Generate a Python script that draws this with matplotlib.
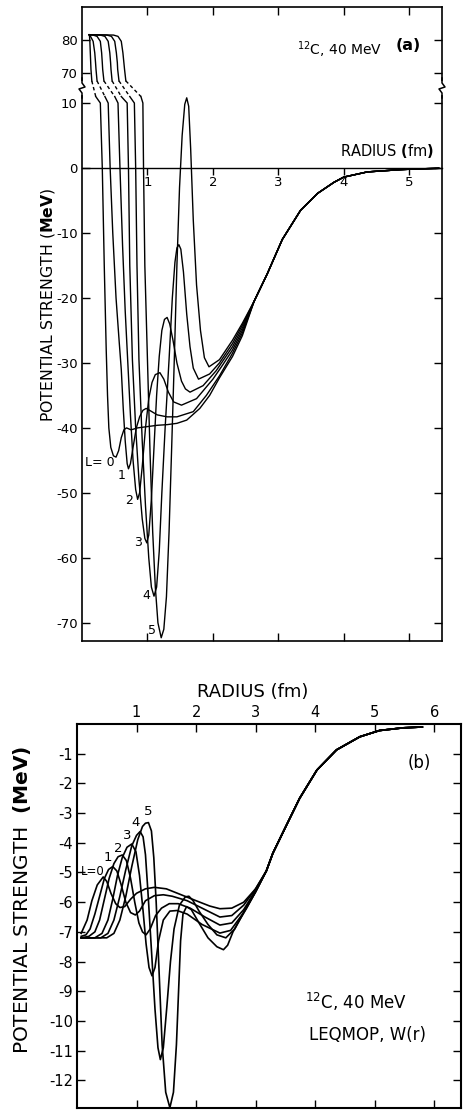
import matplotlib
matplotlib.use('Agg')
import matplotlib.pyplot as plt
import numpy as np

# ------------------------------------------------------------------
# (a) 12C, 40 MeV -- L dependent potentials, L = 0..5
# part of each curve above the axis break (V in MeV)
A_TOP_V = [81.5, 81.4, 81.0, 79.5, 76, 73, 71, 67.5]
A_TOP_R = [
    [0.11, 0.112, 0.115, 0.12, 0.127, 0.133, 0.137, 0.15],
    [0.11, 0.12, 0.13, 0.17, 0.195, 0.207, 0.214, 0.23],
    [0.11, 0.17, 0.23, 0.28, 0.30, 0.31, 0.316, 0.335],
    [0.11, 0.28, 0.35, 0.40, 0.425, 0.437, 0.443, 0.46],
    [0.11, 0.38, 0.45, 0.50, 0.525, 0.54, 0.545, 0.565],
    [0.11, 0.48, 0.55, 0.60, 0.625, 0.64, 0.65, 0.67],
]
# part below the break
A_LOW_R = [
    [0.21, 0.28, 0.31, 0.34, 0.37, 0.39, 0.41, 0.44, 0.48, 0.52, 0.56, 0.60, 0.64, 0.68,
     0.75, 0.85, 1.0, 1.15, 1.3, 1.45, 1.6, 1.8, 1.95, 2.1, 2.3, 2.45],
    [0.35, 0.40, 0.43, 0.47, 0.52, 0.57, 0.60, 0.63, 0.66, 0.69, 0.71, 0.74, 0.78, 0.83,
     0.88, 0.93, 0.98, 1.05, 1.15, 1.3, 1.45, 1.7, 1.9, 2.1, 2.3, 2.45],
    [0.50, 0.55, 0.58, 0.62, 0.66, 0.70, 0.74, 0.78, 0.82, 0.85, 0.88, 0.92, 0.97, 1.02,
     1.07, 1.12, 1.19, 1.25, 1.32, 1.40, 1.52, 1.75, 2.0, 2.15, 2.3, 2.45],
    [0.60, 0.69, 0.71, 0.73, 0.77, 0.82, 0.87, 0.92, 0.96, 0.99, 1.02, 1.06, 1.10, 1.14,
     1.18, 1.22, 1.26, 1.30, 1.34, 1.39, 1.45, 1.52, 1.58, 1.65, 1.85, 2.05, 2.3, 2.45],
    [0.73, 0.80, 0.82, 0.84, 0.87, 0.92, 0.97, 1.02, 1.06, 1.10, 1.14, 1.18, 1.22, 1.27,
     1.33, 1.38, 1.42, 1.45, 1.48, 1.51, 1.55, 1.60, 1.65, 1.70, 1.78, 1.95, 2.1, 2.3, 2.45],
    [0.90, 0.93, 0.94, 0.96, 1.00, 1.04, 1.08, 1.12, 1.16, 1.21, 1.25, 1.29, 1.33, 1.37,
     1.41, 1.45, 1.49, 1.53, 1.57, 1.60, 1.63, 1.66, 1.70, 1.75, 1.81, 1.87, 1.94, 2.1,
     2.3, 2.45],
]
A_LOW_V = [
    [11, 10, 0, -15, -28, -35, -40, -43, -44.3, -44.5, -43.5, -41.5, -40.3, -40,
     -40.3, -40, -39.8, -39.6, -39.5, -39.3, -38.8, -37, -35, -32.3, -29, -25.8],
    [11, 10, 0, -10, -20, -27, -31, -37, -42, -45.5, -46.3, -45.5, -43, -40,
     -38.3, -37.3, -37, -37.4, -38, -38.3, -38.3, -37.5, -35, -32, -28.5, -25.4],
    [11, 10, 0, -12, -22, -30, -38, -45, -49.5, -51, -50, -46, -40, -35.5,
     -33, -31.8, -31.5, -32.5, -34.5, -36, -36.5, -35.5, -32.5, -30.3, -28, -25.0],
    [11, 10, 0, -15, -29.5, -40, -48, -54, -57, -57.7, -56.5, -51, -43, -35,
     -29, -25, -23.3, -23, -24, -26.5, -30, -32.8, -34, -34.5, -33.5, -31.2, -27.5, -24.6],
    [11, 10, 0, -15, -29.5, -42, -52, -60, -64.5, -65.9, -64.5, -59, -50, -40,
     -29.5, -20, -14.5, -12.3, -11.8, -12.5, -16, -22.5, -27.5, -30.8, -32.5, -31.7, -30,
     -27, -24.2],
    [11, 10, 0, -15, -29.5, -44, -56, -64.5, -70, -72.3, -71, -66, -56, -43,
     -29.5, -15, -3, 5, 9.8, 10.8, 9.5, 3, -8, -18, -25, -29.2, -30.6, -29.5,
     -26.5, -23.9],
]
# common tail of all L
A_TAIL_R = [2.63, 2.83, 3.06, 3.34, 3.6, 3.85, 4.0, 4.36, 4.87, 5.1, 5.45]
A_TAIL_V = [-20.5, -16.3, -11.0, -6.5, -3.9, -2.2, -1.4, -0.6, -0.25, -0.15, -0.05]

A_LABEL_TEXT = ['L= 0', '1', '2', '3', '4', '5']
A_LABEL_R = [0.27, 0.60, 0.72, 0.85, 0.99, 1.07]
A_LABEL_V = [-45.4, -47.4, -51.2, -57.7, -65.8, -71.2]

A_XTICKS = [1, 2, 3, 4, 5]
A_YTICKS = [80, 70, 10, 0, -10, -20, -30, -40, -50, -60, -70]

# ------------------------------------------------------------------
# (b) LEQMOP, W(r)
B_R = [
    [0.07, 0.17, 0.25, 0.34, 0.44, 0.50, 0.57, 0.65, 0.72, 0.80, 0.90, 1.0, 1.15, 1.3,
     1.5, 1.75, 2.0, 2.23, 2.4, 2.6, 2.8, 3.0],
    [0.07, 0.15, 0.22, 0.30, 0.38, 0.46, 0.53, 0.60, 0.67, 0.74, 0.82, 0.90, 0.98, 1.05,
     1.15, 1.3, 1.45, 1.6, 1.85, 2.1, 2.4, 2.6, 2.8, 3.0],
    [0.07, 0.2, 0.3, 0.38, 0.46, 0.54, 0.62, 0.69, 0.76, 0.83, 0.90, 0.97, 1.04, 1.10,
     1.16, 1.23, 1.32, 1.42, 1.55, 1.7, 1.9, 2.15, 2.4, 2.6, 2.8, 3.0],
    [0.07, 0.3, 0.42, 0.52, 0.60, 0.68, 0.76, 0.84, 0.92, 0.99, 1.05, 1.11, 1.16, 1.21,
     1.26, 1.31, 1.37, 1.45, 1.56, 1.68, 1.85, 2.1, 2.4, 2.58, 2.78, 3.0],
    [0.07, 0.4, 0.52, 0.62, 0.72, 0.82, 0.92, 1.0, 1.06, 1.11, 1.15, 1.19, 1.25, 1.31,
     1.36, 1.40, 1.45, 1.51, 1.57, 1.63, 1.72, 1.82, 1.88, 1.95, 2.05, 2.2, 2.35, 2.5,
     2.65, 2.8, 3.0],
    [0.07, 0.5, 0.62, 0.72, 0.82, 0.92, 1.02, 1.10, 1.15, 1.20, 1.25, 1.29, 1.33, 1.38,
     1.43, 1.49, 1.56, 1.62, 1.67, 1.71, 1.74, 1.78, 1.84, 1.92, 2.05, 2.2, 2.35, 2.46,
     2.53, 2.62, 2.73, 2.85, 3.0],
]
B_V = [
    [-7.05, -6.6, -5.95, -5.42, -5.15, -5.3, -5.7, -6.05, -6.18, -6.15, -5.9, -5.7, -5.55,
     -5.5, -5.55, -5.75, -5.95, -6.13, -6.22, -6.2, -6.0, -5.55],
    [-7.15, -7.1, -6.9, -6.4, -5.8, -5.2, -4.9, -4.8, -4.95, -5.4, -6.0, -6.35, -6.43,
     -6.3, -5.95, -5.78, -5.75, -5.8, -5.95, -6.2, -6.5, -6.45, -6.1, -5.55],
    [-7.2, -7.15, -7.0, -6.6, -5.9, -5.2, -4.7, -4.47, -4.41, -4.6, -5.2, -6.0, -6.7, -7.0,
     -7.1, -6.9, -6.45, -6.2, -6.05, -6.05, -6.2, -6.5, -6.77, -6.7, -6.25, -5.6],
    [-7.2, -7.2, -7.05, -6.6, -5.9, -5.1, -4.5, -4.15, -4.04, -4.3, -5.1, -6.3, -7.4, -8.2,
     -8.48, -8.2, -7.3, -6.6, -6.3, -6.28, -6.4, -6.75, -7.04, -6.95, -6.4, -5.65],
    [-7.2, -7.2, -7.05, -6.6, -5.8, -4.9, -4.1, -3.75, -3.62, -3.8, -4.4, -5.6, -7.6, -9.6,
     -10.9, -11.3, -10.9, -9.5, -8.0, -6.9, -6.1, -5.82, -5.8, -5.95, -6.3, -6.75, -7.1,
     -7.2, -6.9, -6.35, -5.65],
    [-7.2, -7.2, -7.05, -6.6, -5.8, -4.8, -3.9, -3.45, -3.34, -3.32, -3.6, -4.5, -6.0, -8.4,
     -10.8, -12.4, -12.92, -12.4, -10.8, -8.8, -7.3, -6.4, -6.15, -6.25, -6.7, -7.2, -7.5,
     -7.6, -7.45, -7.0, -6.6, -6.2, -5.65],
]
B_TAIL_R = [3.18, 3.29, 3.52, 3.74, 4.03, 4.36, 4.75, 5.08, 5.47, 5.8]
B_TAIL_V = [-4.95, -4.35, -3.4, -2.5, -1.55, -0.87, -0.43, -0.22, -0.13, -0.1]

B_LABEL_TEXT = ['L=0', '1', '2', '3', '4', '5']
B_LABEL_R = [0.26, 0.52, 0.70, 0.84, 0.99, 1.19]
B_LABEL_V = [-4.95, -4.51, -4.18, -3.74, -3.33, -2.96]

B_XTICKS = [1, 2, 3, 4, 5, 6]
B_YTICKS = [-1, -2, -3, -4, -5, -6, -7, -8, -9, -10, -11, -12]

# ------------------------------------------------------------------
# broken y axis of panel (a): 11..67.5 MeV squeezed into a short gap
LO, HI, GAP, K = 11.0, 67.5, 2.4, 0.508


def fwd(v):
    v = np.asarray(v, float)
    return np.where(v <= LO, v,
                    np.where(v < HI, LO + (v - LO) * GAP / (HI - LO),
                             LO + GAP + (v - HI) * K))


def inv(u):
    u = np.asarray(u, float)
    return np.where(u <= LO, u,
                    np.where(u < LO + GAP, LO + (u - LO) * (HI - LO) / GAP,
                             HI + (u - LO - GAP) / K))


plt.rcParams['font.family'] = 'DejaVu Sans'
fig = plt.figure(figsize=(4.63, 11.10), dpi=100)

# ---------------------------- panel (a)
ax = fig.add_axes([82 / 463, 1 - 641 / 1110, 360 / 463, 634 / 1110])
ax.set_yscale('function', functions=(fwd, inv))
ax.set_xlim(0, 5.5)
ax.set_ylim(-72.8, 89.9)

for L in range(6):
    ax.plot(A_TOP_R[L], A_TOP_V, color='k', lw=1.0)
    ax.plot([A_TOP_R[L][-1], A_LOW_R[L][0]], [A_TOP_V[-1], A_LOW_V[L][0]],
            color='k', lw=1.0, ls=(0, (2.5, 2.0)))
    ax.plot(A_LOW_R[L] + A_TAIL_R, A_LOW_V[L] + A_TAIL_V, color='k', lw=1.0)
    ax.text(A_LABEL_R[L], A_LABEL_V[L], A_LABEL_TEXT[L], fontsize=9,
            ha='center', va='center')

ax.set_yticks(A_YTICKS, [str(t) for t in A_YTICKS])
ax.set_xticks(A_XTICKS, [])
ax.tick_params(direction='in', length=6, width=1.0, top=True, right=True,
               labelsize=9.5, pad=3)
for s in ax.spines.values():
    s.set_linewidth(1.2)

# zero line carrying the radius scale
zero = ax.secondary_xaxis(0, transform=ax.transData)
zero.set_xticks(A_XTICKS)
zero.tick_params(direction='out', length=5, width=1.0, labelsize=9.5, pad=1)
zero.spines['bottom'].set_linewidth(1.0)

# break marks on both spines
fig.canvas.draw()
yb = ax.transAxes.inverted().transform(ax.transData.transform((0, 42)))[1]
dx, dy = 3 / 360, 5 / 634
for xs in (0, 1):
    ax.plot([xs, xs], [yb - dy, yb + dy], color='white', lw=3,
            transform=ax.transAxes, clip_on=False, zorder=5)
    ax.plot([xs, xs, xs - dx, xs + dx, xs, xs],
            [yb - 2 * dy, yb - dy, yb - 0.2 * dy, yb + 0.2 * dy, yb + dy, yb + 2 * dy],
            color='k', lw=1.1, transform=ax.transAxes, clip_on=False, zorder=6)

ax.text(5.37, 2.6, r'RADIUS $\mathbf{(}$fm$\mathbf{)}$', fontsize=10.5,
        ha='right', va='center')
ax.text(0.717, 0.932, r'$^{12}$C, 40 MeV', fontsize=10, ha='center', va='center',
        transform=ax.transAxes)
ax.text(0.905, 0.94, '(a)', fontsize=11.5, fontweight='bold', ha='center',
        va='center', transform=ax.transAxes)
fig.text(48 / 463, 1 - 305 / 1110, r'POTENTIAL STRENGTH ($\mathbf{MeV}$)',
         rotation=90, fontsize=11.3, ha='center', va='center')

# ---------------------------- panel (b)
bx = fig.add_axes([77 / 463, 1 - 1108 / 1110, 384 / 463, 384 / 1110])
bx.set_xlim(0, 6.45)
bx.set_ylim(-12.93, 0)
for L in range(6):
    bx.plot(B_R[L] + B_TAIL_R, B_V[L] + B_TAIL_V, color='k', lw=1.2)
    bx.text(B_LABEL_R[L], B_LABEL_V[L], B_LABEL_TEXT[L], fontsize=9.5 if L else 8.5,
            ha='center', va='center')

bx.xaxis.tick_top()
bx.set_xticks(B_XTICKS)
bx.set_yticks(B_YTICKS, [str(t) for t in B_YTICKS])
bx.tick_params(direction='in', length=6, width=1.0, top=True, bottom=True,
               right=True, left=True, labelsize=10.5, pad=3)
for s in bx.spines.values():
    s.set_linewidth(1.5)

bx.text(0.458, 1.083, 'RADIUS (fm)', fontsize=13, ha='center', va='center',
        transform=bx.transAxes)
bx.text(5.75, -1.31, '(b)', fontsize=12, ha='center', va='center')
bx.text(4.68, -9.36, r'$^{12}$C, 40 MeV', fontsize=12, ha='center', va='center')
bx.text(4.88, -10.47, 'LEQMOP, W(r)', fontsize=12, ha='center', va='center')
fig.text(22 / 463, 1 - 900 / 1110, r'POTENTIAL STRENGTH  $\mathbf{(MeV)}$',
         rotation=90, fontsize=14.5, ha='center', va='center')

fig.savefig('out.png', dpi=100)
